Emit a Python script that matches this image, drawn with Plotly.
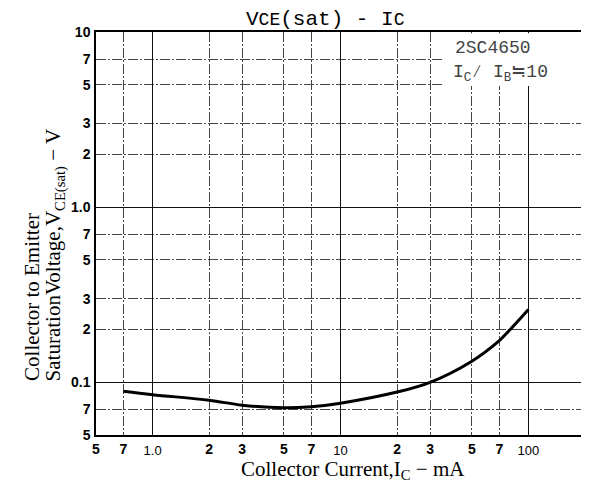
import math
import plotly.graph_objects as go

# ---- data ----
ic_ma = [0.7, 1.0, 2, 3, 5, 7, 10, 20, 30, 50, 70, 80, 100]
vce_sat = [0.089, 0.085, 0.079, 0.074, 0.0715, 0.0725, 0.076, 0.088, 0.100, 0.132, 0.173, 0.20, 0.26]

x_minor_ticks = [0.5, 0.7, 2, 3, 5, 7, 20, 30, 50, 70, 200]
x_minor_text = ["5", "7", "2", "3", "5", "7", "2", "3", "5", "7", "2"]
x_decade_ticks = [1, 10, 100]
x_decade_text = ["1.0", "10", "100"]
y_ticks = [0.05, 0.07, 0.1, 0.2, 0.3, 0.5, 0.7, 1, 2, 3, 5, 7, 10]
y_text = ["5", "7", "0.1", "2", "3", "5", "7", "1.0", "2", "3", "5", "7", "10"]
y_decade_ticks = [0.1, 1]

x_range = [math.log10(0.5), math.log10(200)]
y_range = [math.log10(0.05), math.log10(10)]

TICK_FONT = dict(family="Liberation Sans", size=14, color="black", weight="bold")
DEC_FONT = dict(family="Liberation Sans", size=13, color="black")
SERIF = "Liberation Serif"
MONO = "Liberation Mono"

fig = go.Figure()
fig.add_trace(go.Scatter(x=ic_ma, y=vce_sat, mode="lines",
                         line=dict(color="black", width=3, shape="spline", smoothing=1),
                         showlegend=False, hoverinfo="skip"))
fig.add_trace(go.Scatter(x=[], y=[], xaxis="x2", yaxis="y2", showlegend=False))

fig.update_layout(
    template="none",
    width=589, height=483,
    margin=dict(l=88, r=12, t=24, b=56, pad=0),
    paper_bgcolor="white", plot_bgcolor="white",
    xaxis=dict(type="log", range=x_range, tickvals=x_minor_ticks, ticktext=x_minor_text,
               showgrid=True, gridcolor="#444", gridwidth=1, griddash="10px,2px,2px,2px",
               showline=True, mirror=True, linecolor="black", linewidth=1.5,
               ticks="", tickfont=TICK_FONT, ticklabelstandoff=0, zeroline=False,
               automargin=False),
    xaxis2=dict(type="log", range=x_range, overlaying="x", side="bottom",
                tickvals=x_decade_ticks, ticktext=x_decade_text,
                showgrid=True, gridcolor="#111", gridwidth=1.3, zeroline=False,
                showline=False, ticks="", tickfont=DEC_FONT, ticklabelstandoff=6,
                automargin=False),
    yaxis=dict(type="log", range=y_range, tickvals=y_ticks, ticktext=y_text,
               showgrid=True, gridcolor="#444", gridwidth=1, griddash="10px,2px,2px,2px",
               showline=True, mirror=True, linecolor="black", linewidth=1.5,
               ticks="", tickfont=TICK_FONT, ticklabelstandoff=1, zeroline=False,
               automargin=False),
    yaxis2=dict(type="log", range=y_range, overlaying="y", side="left",
                tickvals=y_decade_ticks, showticklabels=False, zeroline=False,
                showgrid=True, gridcolor="#111", gridwidth=1.3, showline=False, ticks="",
                automargin=False),
)

# white legend box in the top-right corner
fig.add_shape(type="rect", xref="paper", yref="paper", x0=0.712, x1=0.997, y0=0.866, y1=0.997,
              fillcolor="white", line=dict(width=0), layer="above")

annotations = [
    dict(text='V<span style="font-size:18px">CE</span>(sat) - I<span style="font-size:18px">C</span>',
         x=0.469, y=1.030, xref="paper", yref="paper", xanchor="center", yanchor="middle",
         showarrow=False, font=dict(family=MONO, size=21, color="black")),
    dict(text="2SC4650", x=0.730, y=0.960, xref="paper", yref="paper", xanchor="left",
         yanchor="middle", showarrow=False, font=dict(family=MONO, size=18, color="#444")),
    dict(text="I<sub>C</sub>∕ I<sub>B</sub>≒10", x=0.726, y=0.898, xref="paper", yref="paper",
         xanchor="left", yanchor="middle", showarrow=False,
         font=dict(family=MONO, size=18, color="#444")),
    dict(text="Collector Current,I<sub>C</sub> − mA", x=0.526, y=-0.086, xref="paper",
         yref="paper", xanchor="center", yanchor="middle", showarrow=False,
         font=dict(family=SERIF, size=21, color="black")),
    dict(text="Collector to Emitter", x=-0.131, y=0.129, xref="paper", yref="paper",
         xanchor="center", yanchor="bottom", textangle=-90, showarrow=False,
         font=dict(family=SERIF, size=21, color="black")),
    dict(text="SaturationVoltage,V<sub>CE(sat)</sub> − V", x=-0.084, y=0.129, xref="paper",
         yref="paper", xanchor="center", yanchor="bottom", textangle=-90, showarrow=False,
         font=dict(family=SERIF, size=21, color="black")),
]
fig.update_layout(annotations=annotations)

fig.write_html("out.html")
